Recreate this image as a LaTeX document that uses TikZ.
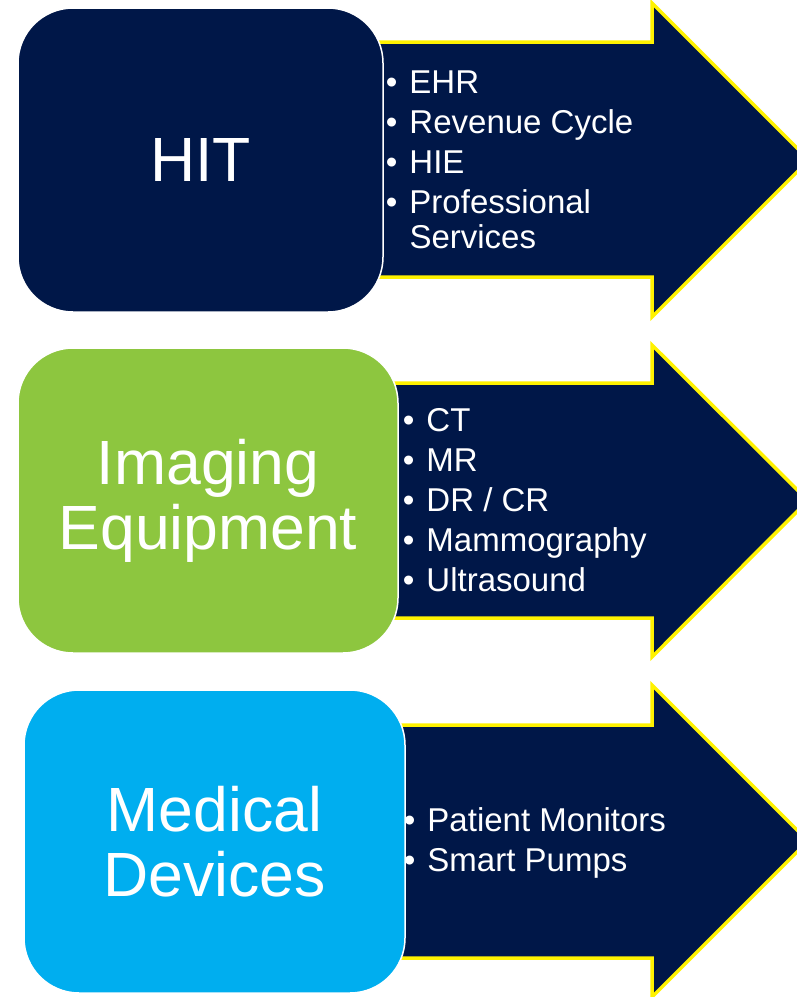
\documentclass[tikz,border=0pt]{standalone}
\usepackage{fontspec}
\setmainfont{Liberation Sans}
\usetikzlibrary{positioning,backgrounds}
\usepackage{xcolor}
\definecolor{navy}{RGB}{0,23,72}
\definecolor{limegreen}{RGB}{141,198,63}
\definecolor{skyblue}{RGB}{0,174,239}
\tikzset{itemlist/.style={text=white, inner sep=0pt, font=\fontsize{33}{35}\selectfont}
}

\begin{document}
\begin{tikzpicture}[x=1pt,y=-1pt]
\tikzstyle{titlebox} = [rectangle, rounded corners=55pt, draw=white, line width=1.5pt,
text=white, align=center, font=\fontsize{62.5}{65}\selectfont]
\tikzstyle{arrowbody} = [fill=navy, draw=yellow, line width=3.5pt, line join=miter]

\useasboundingbox (0,0) rectangle (796,997);

\node [titlebox, fill=navy, minimum width=365pt, minimum height=304pt] (hit) at (200.5,160) {HIT};
\node [titlebox, fill=limegreen, minimum width=380pt, minimum height=305pt] (imaging) at (208,500.5) {Imaging\\Equipment};
\node [titlebox, fill=skyblue, minimum width=381pt, minimum height=303pt] (medical) at (214.5,841.5) {Medical\\Devices};

%Arrows behind the boxes
\begin{scope}[on background layer]
\fill[white] (0,0) rectangle (796,997);
\draw[arrowbody] (370,42) -- (652,42) -- (652,3) -- (809,160) -- (652,317) -- (652,277) -- (370,277) -- cycle;
\draw[arrowbody] (385,383) -- (652,383) -- (652,345) -- (808,500.5) -- (652,657) -- (652,618) -- (385,618) -- cycle;
\draw[arrowbody] (392,725) -- (652,725) -- (652,685) -- (808,841) -- (652,997) -- (652,958) -- (392,958) -- cycle;
\end{scope}

%Lists
\node [itemlist, right=2pt of hit, yshift=-4pt] (hitlist) {\begin{tabular}{@{}l@{\hspace{12pt}}l@{}}
\textbullet & EHR\\[5pt]
\textbullet & Revenue Cycle\\[5pt]
\textbullet & HIE\\[5pt]
\textbullet & Professional\\
 & Services
\end{tabular}};

\node [itemlist, right=4pt of imaging, yshift=-4pt] (imaginglist) {\begin{tabular}{@{}l@{\hspace{12pt}}l@{}}
\textbullet & CT\\[5pt]
\textbullet & MR\\[5pt]
\textbullet & DR / CR\\[5pt]
\textbullet & Mammography\\[5pt]
\textbullet & Ultrasound
\end{tabular}};

\node [itemlist, right=-2pt of medical, yshift=-3pt] (medicallist) {\begin{tabular}{@{}l@{\hspace{12pt}}l@{}}
\textbullet & Patient Monitors\\[5pt]
\textbullet & Smart Pumps
\end{tabular}};
\end{tikzpicture}
\end{document}
